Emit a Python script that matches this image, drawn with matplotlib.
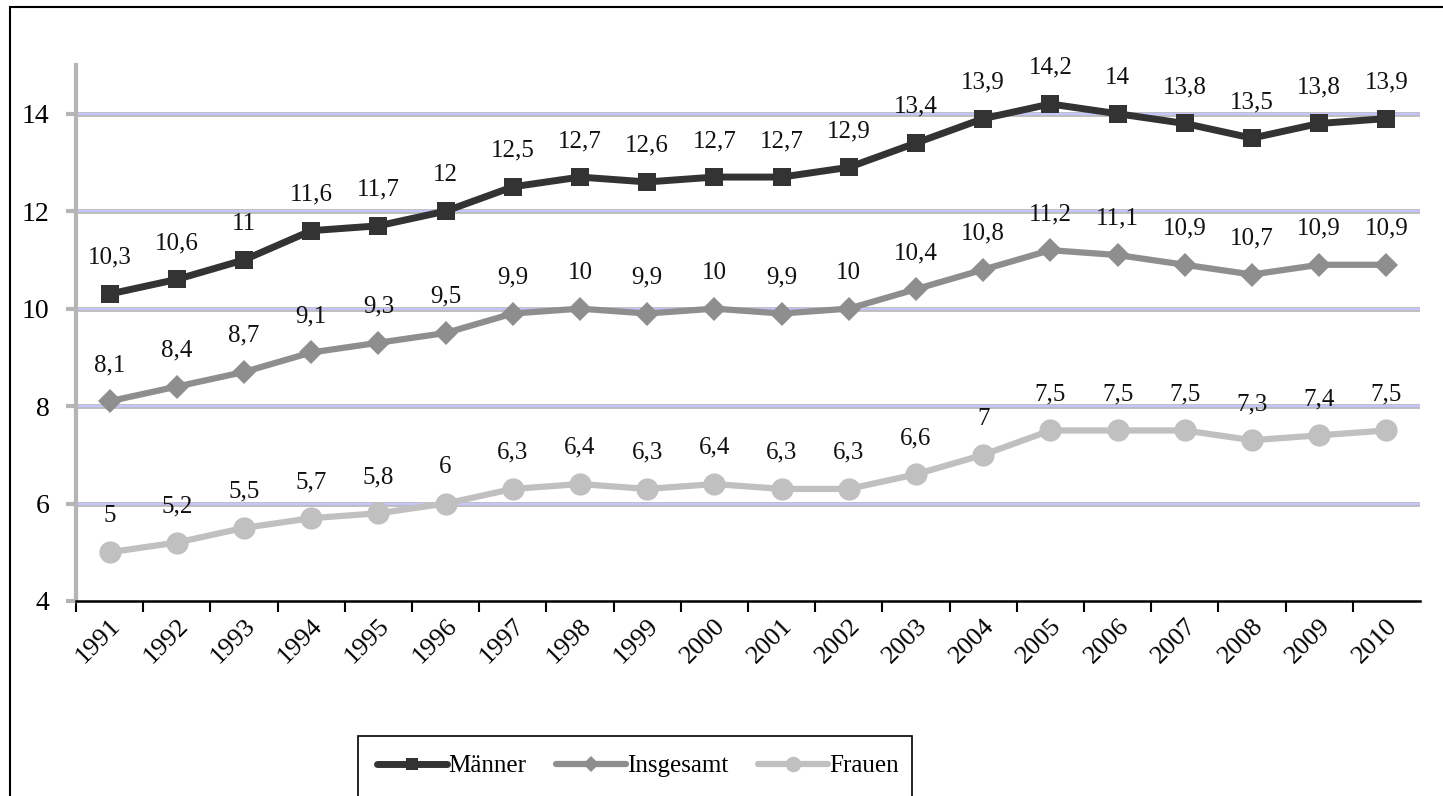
import numpy as np
import matplotlib
matplotlib.use("Agg")
from matplotlib import pyplot as plt
from matplotlib.patches import Rectangle
from matplotlib.lines import Line2D
from matplotlib.transforms import ScaledTranslation

plt.rcParams['font.family'] = ['Liberation Serif', 'DejaVu Serif']

years = [str(y) for y in range(1991, 2011)]
maenner = [10.3, 10.6, 11, 11.6, 11.7, 12, 12.5, 12.7, 12.6, 12.7,
           12.7, 12.9, 13.4, 13.9, 14.2, 14, 13.8, 13.5, 13.8, 13.9]
insgesamt = [8.1, 8.4, 8.7, 9.1, 9.3, 9.5, 9.9, 10, 9.9, 10,
             9.9, 10, 10.4, 10.8, 11.2, 11.1, 10.9, 10.7, 10.9, 10.9]
frauen = [5, 5.2, 5.5, 5.7, 5.8, 6, 6.3, 6.4, 6.3, 6.4,
          6.3, 6.3, 6.6, 7, 7.5, 7.5, 7.5, 7.3, 7.4, 7.5]
yticks = [4, 6, 8, 10, 12, 14]

series = [
    ("Männer", maenner, "#333333", "s", 13, 5),
    ("Insgesamt", insgesamt, "#8e8e8e", "D", 12, 4.5),
    ("Frauen", frauen, "#c0c0c0", "o", 16, 4.5),
]

fig = plt.figure(figsize=(14.43, 7.96), dpi=100)
ax = fig.add_axes([76/1443, 1 - 601/796, (1420-76)/1443, (601-65)/796])

x = np.arange(len(years))

# gridlines: gray border with lavender centre
ax.hlines(yticks[1:], -0.5, len(years) - 0.5, color="#bdbdbd", lw=3.5, zorder=1)
ax.hlines(yticks[1:], -0.5, len(years) - 0.5, color="#c4c4ff", lw=1.5, zorder=1)

handles = []
for name, vals, col, mk, ms, lw in series:
    ax.plot(x, vals, color=col, lw=lw, marker=mk, markersize=ms,
            markeredgewidth=0, solid_joinstyle="round", zorder=3)
    for xi, v in zip(x, vals):
        ax.annotate(f"{v:g}".replace(".", ","), (xi, v), xytext=(0, 26),
                    textcoords="offset points", ha="center", va="center",
                    fontsize=18, color="#111111")
    handles.append(Line2D([], [], color=col, lw=lw, marker=mk,
                          markersize=ms * 0.7, markeredgewidth=0,
                          solid_capstyle="round", label=name))

ax.set_xlim(-0.5, len(years) - 0.5)
ax.set_ylim(4, 15)
ax.set_yticks(yticks)
ax.set_yticklabels([str(t) for t in yticks], fontsize=20)

ax.set_xticks(np.arange(len(years)) - 0.5)
ax.set_xticklabels([])
ax.set_xticks(x, minor=True)
ax.set_xticklabels(years, minor=True, rotation=45, ha="right",
                   rotation_mode="anchor", fontsize=19)
shift = ScaledTranslation(-4/100, 0, fig.dpi_scale_trans)
for lab in ax.get_xticklabels(minor=True):
    lab.set_transform(lab.get_transform() + shift)
ax.tick_params(axis="x", which="minor", length=0, pad=10)
ax.tick_params(axis="x", which="major", length=8, width=1.5, color="black")
ax.tick_params(axis="y", length=7, width=3, color="#b5b5b5", pad=12)

for s in ["top", "right"]:
    ax.spines[s].set_visible(False)
ax.spines["left"].set_color("#b5b5b5")
ax.spines["left"].set_linewidth(3)
ax.spines["bottom"].set_color("black")
ax.spines["bottom"].set_linewidth(1.8)
ax.spines["left"].set_zorder(2)

# outer frame, cut off at right and bottom
fig.patches.append(Rectangle((10/1443, -0.1), 1.2, 1.1 - 7/796,
                             transform=fig.transFigure, fill=False,
                             edgecolor="black", lw=1.5))
# legend frame, cut off at bottom
fig.patches.append(Rectangle((358/1443, -0.1), (912-358)/1443, 0.1 + 1 - 736/796,
                             transform=fig.transFigure, fill=False,
                             edgecolor="black", lw=1.2))
fig.legend(handles=handles, loc="center", bbox_to_anchor=(638/1443, 1 - 766/796),
           ncol=3, frameon=False, fontsize=18, handlelength=2.8,
           handletextpad=0.05, columnspacing=1.2)

plt.savefig("out.png", dpi=100)
